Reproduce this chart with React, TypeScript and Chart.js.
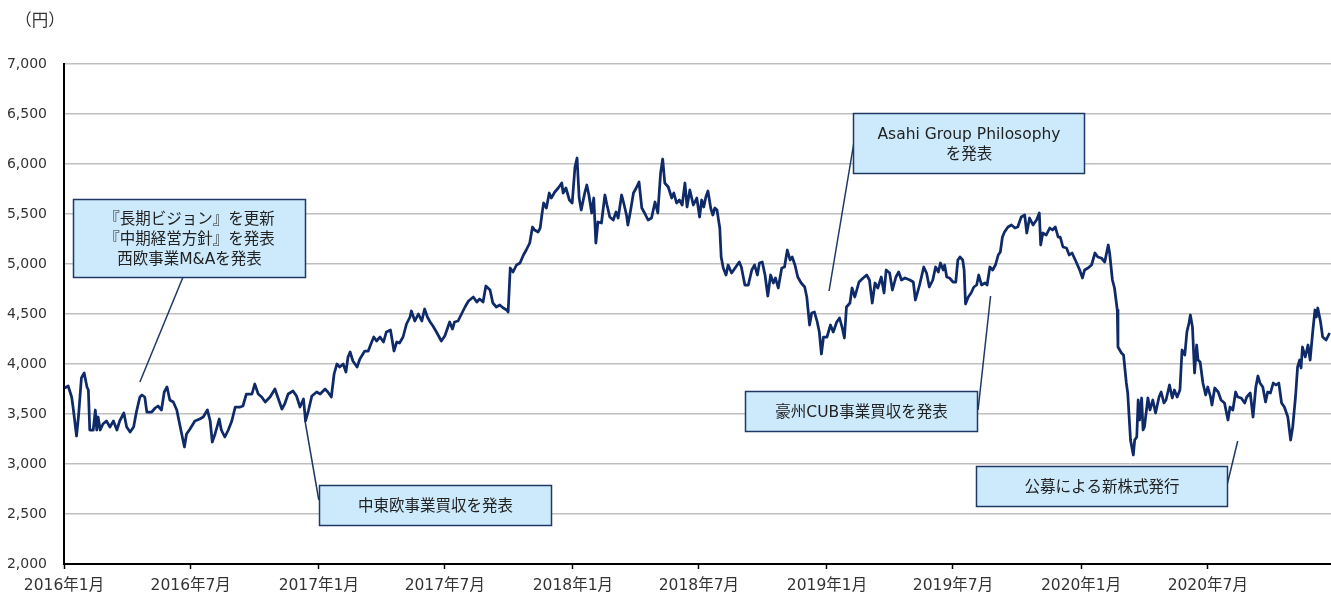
import { useEffect, useRef } from 'react';
import { Chart, registerables } from 'chart.js';

Chart.register(...registerables);

// x values are days since 2016-01-01, y values are share prices (円)
const seg1Days = [1,6,11,13,18,21,25,29,33,35,37,42,45,47,49,52,56,61,66,71,76,80,86,90,95,100,104,109,112,116,119,126,131,135,140,144,148,152,157,162,167,173,176,181,188,195,200,206,210,213,217,223,226,231,236,241,246,253,257,262,270,274,279,284,289];
const seg1Prices = [3760,3780,3670,3570,3280,3490,3860,3910,3770,3740,3340,3340,3540,3340,3470,3340,3400,3430,3370,3430,3340,3430,3510,3370,3320,3370,3520,3670,3690,3670,3520,3520,3560,3580,3540,3720,3770,3640,3620,3540,3370,3170,3300,3350,3430,3450,3470,3540,3430,3220,3300,3450,3340,3270,3340,3430,3570,3570,3580,3700,3700,3800,3700,3670,3620];

const seg2Days = [296,303,308,313,317,322,329,334,339,344,347,351,356,363,368,375,379,384,388,392,396,401,405,408,411,415,421,425,432,437,442,445,449,454,459,463,469,474,478,482,487,492,497,499,504,509,514,518,522,526,530,535,542,547,554,558,561,566,571,576,581,588,593,597,602,606];
const seg2Prices = [3670,3750,3650,3550,3600,3700,3730,3680,3570,3650,3430,3530,3680,3720,3700,3750,3720,3670,3900,4000,3970,4000,3920,4070,4120,4030,3970,4050,4130,4130,4220,4270,4230,4270,4220,4320,4340,4130,4220,4210,4270,4400,4470,4530,4430,4500,4430,4550,4470,4420,4380,4320,4230,4280,4420,4350,4420,4430,4500,4570,4630,4670,4620,4650,4620,4780];

const seg3Days = [612,616,621,626,631,636,638,641,645,650,655,660,664,669,673,676,681,684,687,689,693,697,700,705,710,715,717,721,726,730,734,737,740,743,748,751,754,758,761,764,767,772,777,780,784,789,793,796,801,804,808,810,814,818,822,826,830,834,839,844,849,853,857,860,863,868,873,876,880,884,888,892,895,899,904,909];
const seg3Prices = [4740,4610,4570,4590,4560,4540,4520,4960,4920,4990,5010,5090,5140,5210,5370,5340,5320,5360,5520,5610,5560,5710,5660,5720,5760,5810,5710,5760,5640,5610,5970,6060,5660,5540,5710,5790,5690,5510,5660,5210,5420,5410,5690,5590,5470,5440,5520,5460,5690,5610,5490,5390,5540,5710,5760,5820,5560,5510,5440,5460,5620,5510,5910,6050,5810,5770,5660,5710,5610,5640,5590,5810,5570,5740,5590,5660];

const seg4Days = [913,916,919,922,925,929,932,935,938,942,944,947,951,954,959,964,970,973,978,983,988,992,996,999,1003,1007,1011,1015,1019,1022,1026,1031,1035,1039,1043,1046,1050,1054,1059,1064,1067,1071,1074,1078,1082,1085,1088,1091,1096,1101,1105,1110,1114,1118,1121,1124,1129,1132,1136,1142,1148,1153,1157,1161,1165,1169,1174,1178,1181,1186,1190,1195,1199,1203,1208,1215,1220,1223,1229,1235,1239,1243,1248];
const seg4Prices = [5470,5640,5570,5670,5730,5560,5490,5560,5540,5360,5070,4960,4890,4990,4910,4960,5020,4970,4790,4790,4940,4990,4890,5010,5020,4890,4680,4890,4810,4860,4760,4960,4970,5140,5040,5070,4990,4870,4810,4770,4670,4390,4510,4520,4420,4320,4100,4270,4270,4390,4320,4420,4460,4360,4260,4570,4610,4760,4670,4820,4860,4890,4840,4610,4810,4760,4870,4710,4940,4910,4740,4870,4920,4840,4860,4840,4820,4640,4790,4970,4910,4770,4840];

const seg5Days = [1252,1256,1259,1263,1265,1268,1272,1277,1281,1284,1287,1291,1293,1295,1299,1303,1307,1311,1314,1318,1323,1326,1330,1334,1338,1342,1345,1348,1351,1356,1361,1366,1370,1375,1380,1383,1387,1392,1397,1401,1403,1406,1411,1416,1420,1424,1428,1431,1435,1440,1444,1448,1454,1459,1463,1466,1471,1476,1481,1485,1490,1495,1500,1502,1506,1509,1513];
const seg5Prices = [4970,4920,5010,4940,4990,4870,4860,4820,4820,5040,5070,5040,4940,4600,4670,4710,4770,4790,4890,4790,4810,4790,4970,4940,4990,5090,5120,5270,5320,5370,5390,5360,5370,5470,5490,5310,5460,5390,5440,5510,5190,5310,5290,5360,5340,5370,5270,5270,5170,5160,5090,5110,5020,4940,4860,4940,4960,4990,5110,5070,5060,5020,5190,5110,4840,4760,4540];

const seg6Days = [1514,1519,1522,1526,1528,1532,1536,1538,1541,1543,1545,1548,1550,1552,1557,1560,1564,1568,1573,1576,1580,1583,1588,1592,1595,1599,1603,1606,1610,1613,1616,1618,1621,1624,1627,1629,1632,1636,1640,1643,1647,1649,1653,1658,1662,1667,1672,1675,1679,1683,1686,1691,1696,1699,1704,1708,1712,1715,1718,1722,1726,1729,1733,1737,1741,1745,1749,1753,1758,1762,1765,1769,1772,1775,1777,1779,1783,1787,1790,1794,1797,1799,1801,1805,1808,1813,1818];
const seg6Prices = [4170,4110,4090,3810,3710,3240,3090,3240,3270,3640,3440,3660,3340,3370,3660,3540,3640,3510,3670,3720,3610,3640,3790,3660,3740,3670,3740,4140,4090,4320,4410,4490,4370,3910,4190,4040,4020,3810,3690,3770,3670,3590,3760,3720,3640,3610,3440,3570,3540,3720,3670,3660,3610,3670,3710,3470,3770,3880,3810,3770,3620,3720,3710,3810,3790,3810,3610,3570,3470,3240,3370,3670,3970,4040,3960,4170,4070,4190,4040,4340,4540,4470,4560,4420,4270,4240,4310];

const tickDays = [0, 182, 366, 547, 731, 912, 1096, 1277, 1461, 1643];
const tickLabels = ['2016年1月', '2016年7月', '2017年1月', '2017年7月', '2018年1月', '2018年7月', '2019年1月', '2019年7月', '2020年1月', '2020年7月'];

const unitLabel = '（円）';

const noteTexts = [
  ['『長期ビジョン』を更新', '『中期経営方針』を発表', '西欧事業M&Aを発表'],
  ['中東欧事業買収を発表'],
  ['Asahi Group Philosophy', 'を発表'],
  ['豪州CUB事業買収を発表'],
  ['公募による新株式発行'],
];
// box corners in data units: [left day, right day, top price, bottom price]
const noteBoxes = [
  [13, 346, 5650, 4870],
  [366, 699, 2790, 2390],
  [1133, 1465, 6510, 5910],
  [978, 1311, 3730, 3330],
  [1310, 1670, 2980, 2580],
];
// leader lines in data units: [day1, price1, day2, price2]
const noteLeaders = [
  [171, 4870, 109, 3820],
  [366, 2640, 346, 3440],
  [1136, 6270, 1099, 4730],
  [1313, 3540, 1331, 4680],
  [1670, 2770, 1686, 3230],
];

const FONT = "'DejaVu Sans', 'Noto Sans CJK JP', sans-serif";

const notesPlugin = {
  id: 'notes',
  afterDraw(chart: any) {
    const { ctx } = chart;
    const xs = chart.scales.x;
    const ys = chart.scales.y;
    ctx.save();
    // unit label
    ctx.fillStyle = '#333';
    ctx.font = `16.5px ${FONT}`;
    ctx.textAlign = 'center';
    ctx.textBaseline = 'middle';
    ctx.fillText(unitLabel, 40, 22);

    ctx.strokeStyle = '#1f3864';
    ctx.lineWidth = 1.5;
    noteLeaders.forEach(([d1, p1, d2, p2]) => {
      ctx.beginPath();
      ctx.moveTo(xs.getPixelForValue(d1), ys.getPixelForValue(p1));
      ctx.lineTo(xs.getPixelForValue(d2), ys.getPixelForValue(p2));
      ctx.stroke();
    });
    noteBoxes.forEach(([dl, dr, pt, pb], i) => {
      const l = Math.round(xs.getPixelForValue(dl)) + 0.5;
      const r = Math.round(xs.getPixelForValue(dr)) + 0.5;
      const t = Math.round(ys.getPixelForValue(pt)) + 0.5;
      const b = Math.round(ys.getPixelForValue(pb)) + 0.5;
      ctx.fillStyle = '#cdeafc';
      ctx.fillRect(l, t, r - l, b - t);
      ctx.strokeStyle = '#1f3864';
      ctx.lineWidth = 1.5;
      ctx.strokeRect(l, t, r - l, b - t);
      const lines = noteTexts[i];
      const lh = 20;
      const cx = (l + r) / 2;
      const cy = (t + b) / 2 + 1;
      ctx.fillStyle = '#222';
      ctx.font = `15.5px ${FONT}`;
      ctx.textAlign = 'center';
      ctx.textBaseline = 'middle';
      lines.forEach((s, k) => {
        ctx.fillText(s, cx, cy + (k - (lines.length - 1) / 2) * lh);
      });
    });
    ctx.restore();
  },
};

export default function App() {
  const ref = useRef<HTMLCanvasElement>(null);
  useEffect(() => {
    document.body.style.margin = '0';
    const days = [...seg1Days, ...seg2Days, ...seg3Days, ...seg4Days, ...seg5Days, ...seg6Days];
    const prices = [...seg1Prices, ...seg2Prices, ...seg3Prices, ...seg4Prices, ...seg5Prices, ...seg6Prices];
    const points = days.map((d, i) => ({ x: d, y: prices[i] }));
    const chart = new Chart(ref.current as HTMLCanvasElement, {
      type: 'line',
      data: {
        datasets: [
          {
            data: points,
            borderColor: '#0f2a68',
            borderWidth: 2.75,
            pointRadius: 0,
            tension: 0,
            borderJoinStyle: 'round',
            fill: false,
          },
        ],
      },
      options: {
        responsive: false,
        animation: false,
        layout: { padding: { top: 64, right: 0, left: 0, bottom: 0 } },
        plugins: { legend: { display: false }, tooltip: { enabled: false }, title: { display: false } },
        scales: {
          x: {
            type: 'linear',
            min: 0,
            max: 1820,
            afterBuildTicks: (axis: any) => {
              axis.ticks = tickDays.map((v) => ({ value: v }));
            },
            afterFit: (s: any) => {
              s.height = 29;
            },
            grid: { drawOnChartArea: false, drawTicks: true, tickLength: 5, tickColor: '#000', tickWidth: 1.5 },
            border: { display: true, color: '#000', width: 2 },
            ticks: {
              autoSkip: false,
              maxRotation: 0,
              padding: 8,
              color: '#333',
              font: { family: FONT, size: 15.5 },
              callback: (_v: any, i: number) => tickLabels[i] ?? '',
            },
          },
          y: {
            min: 2000,
            max: 7000,
            afterFit: (s: any) => {
              s.width = 64;
            },
            grid: { color: '#bfbfbf', lineWidth: 1.5, drawTicks: false },
            border: { display: true, color: '#000', width: 2 },
            ticks: {
              stepSize: 500,
              padding: 17,
              color: '#333',
              font: { family: FONT, size: 14 },
              callback: (v: any) => Number(v).toLocaleString('en-US'),
            },
          },
        },
      },
      plugins: [notesPlugin],
    } as any);
    return () => chart.destroy();
  }, []);
  return (
    <div style={{ width: 1331, height: 593 }}>
      <canvas ref={ref} width={1331} height={593} style={{ display: 'block' }} />
    </div>
  );
}
